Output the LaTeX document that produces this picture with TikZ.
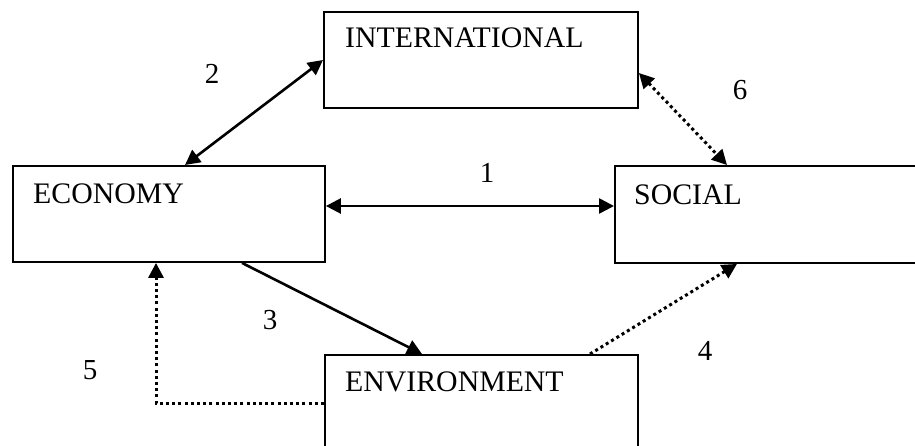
\documentclass[tikz,border=0pt]{standalone}
\usepackage{fontspec}
\setmainfont{Liberation Serif}
\usetikzlibrary{arrows.meta,calc}
\begin{document}
\begin{tikzpicture}[x=1pt,y=-1pt,
  box/.style={draw,line width=1.9pt,inner sep=0pt,anchor=north west},
  lbl/.style={anchor=base west,inner sep=0pt,font=\fontsize{29.8}{30}\selectfont},
  num/.style={anchor=base,inner sep=0pt,font=\fontsize{29}{30}\selectfont},
  conn/.style={line width=2.6pt},
  dots/.style={line width=3pt,dash pattern=on 3pt off 3.2pt},
  tipa/.tip={Triangle[length=15pt,width=15pt]}
]
\useasboundingbox (0,0) rectangle (915,445);
\fill[white] (0,0) rectangle (915,445);
% boxes
\node[box,minimum width=314pt,minimum height=96pt] (int) at (323,11) {};
\node[box,minimum width=312pt,minimum height=96pt] (eco) at (12,165) {};
\node[box,minimum width=330pt,minimum height=97pt] (soc) at (614,165) {};
\node[box,minimum width=313pt,minimum height=130pt] (env) at (324,354) {};
% labels
\node[lbl] (tint) at (345,47) {INTERNATIONAL};
\node[lbl] (teco) at (33,203) {ECONOMY};
\node[lbl] (tsoc) at (634,204) {SOCIAL};
\node[lbl] (tenv) at (345,391) {ENVIRONMENT};
% numbers
\node[num] (n1) at (487,182) {1};
\node[num] (n2) at (212,83) {2};
\node[num] (n3) at (270,329) {3};
\node[num] (n4) at (705,360) {4};
\node[num] (n5) at (90,379) {5};
\node[num] (n6) at (740,99) {6};
% connector end points
\coordinate (c1a) at ($(eco.north east)+(0,41)$);
\coordinate (c1b) at ($(soc.north west)+(0,41)$);
\coordinate (c2a) at ($(eco.north west)+(173,0)$);
\coordinate (c2b) at ($(int.north west)+(0,49)$);
\coordinate (c6a) at ($(int.north east)+(0,62)$);
\coordinate (c6b) at ($(soc.north west)+(113,0)$);
\coordinate (c3a) at ($(eco.south west)+(230,0)$);
\coordinate (c3b) at ($(env.north west)+(98,0)$);
\coordinate (c4a) at ($(env.north west)+(266,0)$);
\coordinate (c4b) at ($(soc.south west)+(123,0)$);
\coordinate (c5a) at ($(env.north west)+(0,49)$);
\coordinate (c5b) at ($(eco.south west)+(144,0)$);
% connectors
\draw[conn,tipa-tipa] (c1a) -- (c1b);
\draw[conn,tipa-tipa] (c2a) -- (c2b);
\draw[dots,tipa-tipa] (c6a) -- (c6b);
\draw[conn,-tipa] (c3a) -- (c3b);
\draw[dots,-tipa] (c4a) -- (c4b);
\draw[dots,-tipa] (c5a) -| (c5b);
\end{tikzpicture}
\end{document}
